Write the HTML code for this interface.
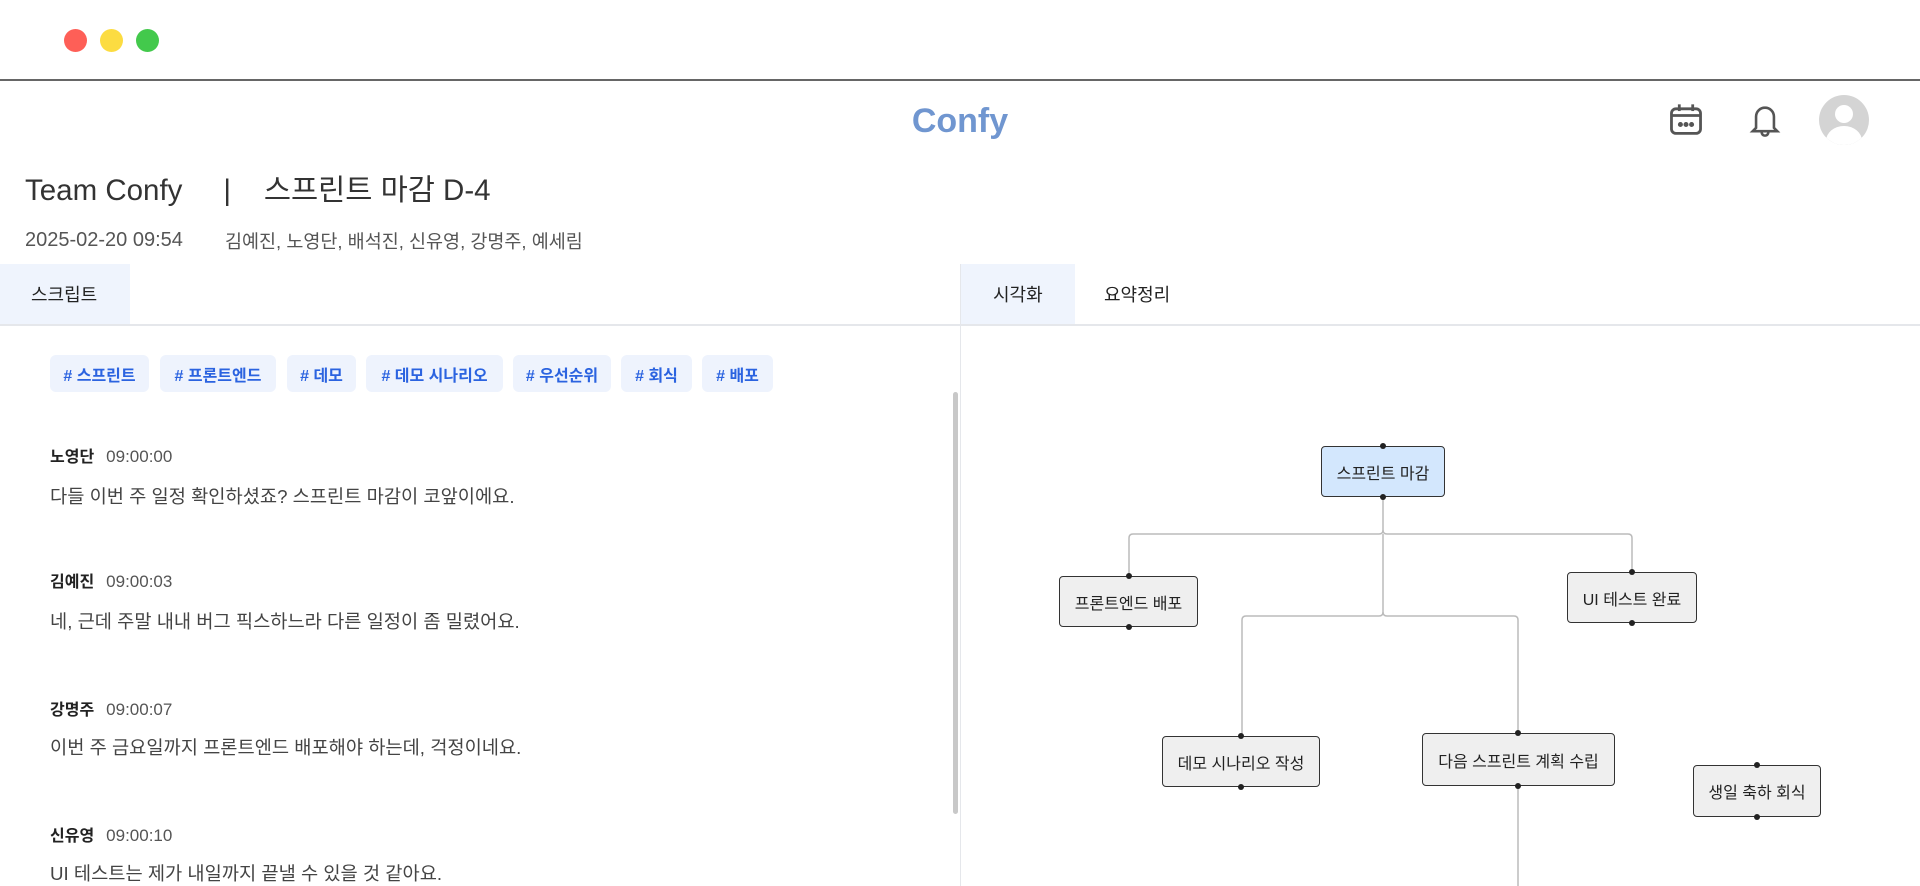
<!DOCTYPE html>
<html><head><meta charset="utf-8"><style>
*{margin:0;padding:0;box-sizing:border-box}
body{width:1920px;height:886px;overflow:hidden;background:#fff;font-family:"Liberation Sans","Noto Sans CJK KR",sans-serif;position:relative;color:#222}
.a{position:absolute}
.dot{position:absolute;width:23px;height:23px;border-radius:50%;top:29px}
.tag{position:absolute;top:355px;height:37px;background:#eef3fd;border-radius:6px;color:#2b63e0;font-size:16px;font-weight:bold;display:flex;align-items:center;justify-content:center}
.nm{position:absolute;left:50px;font-size:16px;font-weight:bold;color:#222}
.nm span{font-weight:normal;color:#555;margin-left:12px;font-size:17px}
.tx{position:absolute;left:50px;font-size:18.7px;color:#444}
.node{position:absolute;background:#efefef;border:1.5px solid #333;border-radius:4px;display:flex;align-items:center;justify-content:center;font-size:16px;color:#222}
.nd{position:absolute;width:6px;height:6px;border-radius:50%;background:#222}
</style></head><body>
<div class="dot" style="left:64px;background:#fe5f57"></div>
<div class="dot" style="left:100px;background:#fcdc41"></div>
<div class="dot" style="left:136px;background:#43c94c"></div>
<div class="a" style="left:0;top:79px;width:1920px;height:2px;background:#666"></div>
<div class="a" style="left:0;top:102px;width:1920px;text-align:center;font-size:34px;font-weight:bold;color:#7096d0">Confy</div>
<svg class="a" style="left:1667px;top:101px" width="38" height="38" viewBox="0 0 34 34" fill="none" stroke="#555" stroke-width="2.5"><rect x="4" y="7" width="26" height="22" rx="4"/><line x1="11" y1="3" x2="11" y2="9"/><line x1="23" y1="3" x2="23" y2="9"/><line x1="4" y1="13" x2="30" y2="13"/><circle cx="12" cy="21" r="1" fill="#555"/><circle cx="17" cy="21" r="1" fill="#555"/><circle cx="22" cy="21" r="1" fill="#555"/></svg>
<svg class="a" style="left:1746px;top:101px" width="38" height="38" viewBox="0 0 34 34" fill="none" stroke="#555" stroke-width="2.3"><path d="M9 24V14a8 8 0 0116 0v10l3 3H6z"/><path d="M14 28a3 3 0 006 0"/></svg>
<div class="a" style="left:1819px;top:95px;width:50px;height:50px;border-radius:50%;background:#d4d4d4;overflow:hidden"><div class="a" style="left:16px;top:10px;width:18px;height:18px;border-radius:50%;background:#fff"></div><div class="a" style="left:7px;top:31px;width:36px;height:30px;border-radius:50%;background:#fff"></div></div>
<div class="a" style="left:25px;top:167px;font-size:29.5px;color:#333;white-space:pre">Team Confy     |    스프린트 마감 D-4</div>
<div class="a" style="left:25px;top:229px;font-size:20px;color:#555;white-space:pre">2025-02-20 09:54</div>
<div class="a" style="left:225px;top:228px;font-size:18.5px;color:#555;white-space:pre">김예진, 노영단, 배석진, 신유영, 강명주, 예세림</div>
<div class="a" style="left:0;top:264px;width:130px;height:60px;background:#eff4fd"></div>
<div class="a" style="left:31px;top:281px;font-size:18px">스크립트</div>
<div class="a" style="left:961px;top:264px;width:114px;height:60px;background:#eff4fd"></div>
<div class="a" style="left:993px;top:281px;font-size:18px">시각화</div>
<div class="a" style="left:1104px;top:281px;font-size:18px">요약정리</div>
<div class="a" style="left:0;top:324px;width:1920px;height:1.5px;background:#e5e7eb"></div>
<div class="a" style="left:960px;top:264px;width:1px;height:622px;background:#e5e7eb"></div>
<div class="tag" style="left:50px;width:99px"># 스프린트</div>
<div class="tag" style="left:160px;width:116px"># 프론트엔드</div>
<div class="tag" style="left:287px;width:69px"># 데모</div>
<div class="tag" style="left:366px;width:137px"># 데모 시나리오</div>
<div class="tag" style="left:513px;width:98px"># 우선순위</div>
<div class="tag" style="left:621px;width:71px"># 회식</div>
<div class="tag" style="left:702px;width:71px"># 배포</div>
<div class="a" style="left:953px;top:392px;width:5px;height:422px;background:#c8c8c8;border-radius:3px"></div>
<div class="nm" style="top:443px">노영단<span>09:00:00</span></div>
<div class="tx" style="top:482px">다들 이번 주 일정 확인하셨죠? 스프린트 마감이 코앞이에요.</div>
<div class="nm" style="top:568px">김예진<span>09:00:03</span></div>
<div class="tx" style="top:607px">네, 근데 주말 내내 버그 픽스하느라 다른 일정이 좀 밀렸어요.</div>
<div class="nm" style="top:696px">강명주<span>09:00:07</span></div>
<div class="tx" style="top:733px">이번 주 금요일까지 프론트엔드 배포해야 하는데, 걱정이네요.</div>
<div class="nm" style="top:822px">신유영<span>09:00:10</span></div>
<div class="tx" style="top:859px">UI 테스트는 제가 내일까지 끝낼 수 있을 것 같아요.</div>
<svg class="a" style="left:0;top:0" width="1920" height="886" fill="none" stroke="#bbb" stroke-width="1.5">
<path d="M1383 497V530q0 4-4 4H1133q-4 0-4 4V576"/>
<path d="M1383 530q0 4 4 4H1628q4 0 4 4V572"/>
<path d="M1383 534V612q0 4-4 4H1246q-4 0-4 4V736"/>
<path d="M1383 612q0 4 4 4H1514q4 0 4 4V733"/>
<path d="M1518 786V886"/>
</svg>
<div class="node" style="left:1321px;top:446px;width:124px;height:51px;background:#d3e7fd">스프린트 마감</div>
<div class="node" style="left:1059px;top:576px;width:139px;height:51px">프론트엔드 배포</div>
<div class="node" style="left:1567px;top:572px;width:130px;height:51px">UI 테스트 완료</div>
<div class="node" style="left:1162px;top:736px;width:158px;height:51px">데모 시나리오 작성</div>
<div class="node" style="left:1422px;top:733px;width:193px;height:53px">다음 스프린트 계획 수립</div>
<div class="node" style="left:1693px;top:765px;width:128px;height:52px">생일 축하 회식</div>
<div class="nd" style="left:1380px;top:443px"></div><div class="nd" style="left:1380px;top:494px"></div>
<div class="nd" style="left:1126px;top:573px"></div><div class="nd" style="left:1126px;top:624px"></div>
<div class="nd" style="left:1629px;top:569px"></div><div class="nd" style="left:1629px;top:620px"></div>
<div class="nd" style="left:1238px;top:733px"></div><div class="nd" style="left:1238px;top:784px"></div>
<div class="nd" style="left:1515px;top:730px"></div><div class="nd" style="left:1515px;top:783px"></div>
<div class="nd" style="left:1754px;top:762px"></div><div class="nd" style="left:1754px;top:814px"></div>
</body></html>
